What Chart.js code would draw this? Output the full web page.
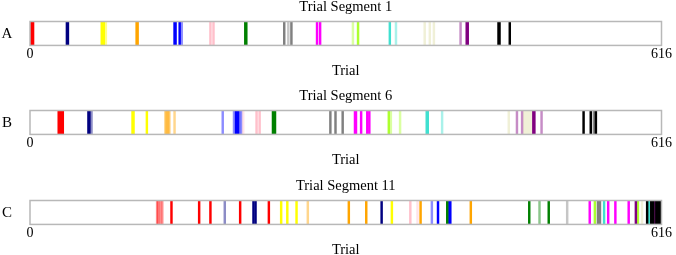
<!DOCTYPE html>
<html>
<head>
<meta charset="utf-8">
<script src="https://cdn.jsdelivr.net/npm/chart.js@4.4.1/dist/chart.umd.min.js"></script>
<style>
  body { margin: 0; background: #fff; width: 676px; height: 255px; overflow: hidden; position: relative; }
  .panel { position: absolute; left: 0; width: 676px; height: 78px; }
</style>
</head>
<body>
<div class="panel" style="top:0px"><canvas id="segA"></canvas></div>
<div class="panel" style="top:89px"><canvas id="segB"></canvas></div>
<div class="panel" style="top:179px"><canvas id="segC"></canvas></div>
<script>
// trial axis
const trialMin = 0;
const trialMax = 616;
const axisTicks = [0, 616];

// stimulus categories (index used below)
const stimNames = ["red", "navy", "yellow", "orange", "blue", "pink", "green",
  "gray", "magenta", "lime", "turquoise", "beige", "purple", "black"];

// Trial Segment 1
const seg1Trials = [0, 1, 2, 3, 36, 37, 70, 72, 74, 104, 105, 141, 142, 146, 148,
  176, 179, 210, 211, 248, 252, 255, 280, 283, 315, 320, 351, 357, 385, 390, 394,
  420, 426, 427, 457, 458, 468];
const seg1Stim = [0, 0, 0, 0, 1, 1, 2, 2, 2, 3, 3, 4, 4, 4, 4,
  5, 5, 6, 6, 7, 7, 7, 8, 8, 9, 9, 10, 10, 11, 11, 11,
  12, 12, 12, 13, 13, 13];
const seg1Faded = [0, 0, 0, 0, 0, 0, 0, 0, 1, 0, 0, 0, 0, 0, 1,
  0, 0, 0, 0, 0, 1, 0, 0, 0, 1, 0, 0, 1, 0, 0, 0,
  1, 0, 0, 0, 0, 0];

// Trial Segment 6
const seg6Trials = [28, 29, 30, 31, 32, 57, 58, 60, 100, 101, 114,
  132, 133, 134, 135, 136, 141, 188, 199, 201, 203, 204, 206,
  208, 221, 224, 237, 238, 239, 293, 298, 305, 317, 318, 323, 329, 331,
  350, 352, 361, 387, 388, 402, 467, 482, 484, 486, 488, 490,
  475, 480, 491, 492, 499, 540, 547, 550, 552];
const seg6Stim = [0, 0, 0, 0, 0, 1, 1, 1, 2, 2, 2,
  3, 3, 3, 3, 3, 3, 4, 4, 4, 4, 4, 4,
  5, 5, 5, 6, 6, 6, 7, 7, 7, 8, 8, 8, 8, 8,
  9, 9, 9, 10, 10, 10, 11, 11, 11, 11, 11, 11,
  12, 12, 12, 12, 12, 13, 13, 13, 13];
const seg6Faded = [0, 0, 0, 0, 0, 0, 0, 1, 0, 0, 0,
  1, 1, 1, 1, 1, 1, 1, 1, 0, 0, 1, 1,
  1, 0, 0, 0, 0, 0, 0, 0, 0, 0, 0, 0, 0, 0,
  0, 1, 1, 0, 0, 1, 0, 0, 0, 0, 0, 0,
  1, 1, 0, 0, 1, 0, 0, 1, 0];

// Trial Segment 11
const seg11Trials = [124, 125, 127, 129, 138, 165, 176, 205, 233,
  190, 218, 220, 343, 245, 251, 260, 353, 271, 311, 328, 381, 430,
  392, 398, 409, 410, 371, 378, 407, 487, 497, 506, 524, 554, 556,
  546, 564, 571, 584, 551, 593, 560, 604, 597, 591, 610,
  602, 606, 607, 608, 611, 612, 613, 614, 615];
const seg11Stim = [0, 0, 0, 0, 0, 0, 0, 0, 0,
  1, 1, 1, 1, 2, 2, 2, 2, 3, 3, 3, 3, 3,
  4, 4, 4, 4, 5, 5, 6, 6, 6, 6, 7, 7, 7,
  8, 8, 8, 8, 9, 9, 10, 10, 11, 12, 12,
  13, 13, 13, 13, 13, 13, 13, 13, 13];
const seg11Faded = [1, 1, 1, 1, 0, 0, 0, 0, 0,
  1, 0, 0, 0, 0, 0, 0, 0, 1, 0, 0, 0, 0,
  1, 0, 0, 0, 0, 1, 0, 0, 1, 0, 1, 0, 0,
  0, 0, 0, 0, 0, 0, 0, 0, 0, 0, 0,
  0, 0, 0, 0, 0, 0, 0, 0, 0];

// colours for each stimulus (r, g, b)
const stimColors = [
  [255, 0, 0], [0, 0, 128], [255, 255, 0], [255, 165, 0], [0, 0, 255],
  [255, 192, 203], [0, 128, 0], [128, 128, 128], [255, 0, 255], [173, 255, 47],
  [64, 224, 208], [240, 240, 215], [128, 0, 128], [0, 0, 0]
];

Chart.defaults.font.family = "'Liberation Serif', 'Times New Roman', serif";
Chart.defaults.font.size = 14;
Chart.defaults.color = "#000";

// grey frame round the plot area + panel letter on the left
const boxPlugin = {
  id: "box",
  afterDatasetsDraw(chart) {
    const a = chart.chartArea;
    const ctx = chart.ctx;
    ctx.save();
    ctx.strokeStyle = "#b8b8b8";
    ctx.lineWidth = 1.5;
    ctx.strokeRect(a.left, a.top, a.right - a.left, a.bottom - a.top);
    ctx.restore();
  },
  afterDraw(chart, args, opts) {
    const a = chart.chartArea;
    const ctx = chart.ctx;
    ctx.save();
    ctx.font = "15px 'Liberation Serif', serif";
    ctx.fillStyle = "#000";
    ctx.textAlign = "center";
    ctx.textBaseline = "middle";
    ctx.fillText(opts.letter, 7, (a.top + a.bottom) / 2 + 1);
    ctx.restore();
  }
};

function makePanel(id, title, letter, trials, stim, faded) {
  const points = trials.map(t => ({ x: t, y: 1 }));
  const colors = stim.map((s, i) => {
    const c = stimColors[s];
    const alpha = faded[i] ? 0.45 : 1;
    return `rgba(${c[0]},${c[1]},${c[2]},${alpha})`;
  });

  new Chart(id, {
    type: "bar",
    data: {
      datasets: [{
        data: points,
        backgroundColor: colors,
        borderWidth: 0,
        barThickness: 1.8,
        grouped: false
      }]
    },
    options: {
      responsive: true,
      maintainAspectRatio: false,
      animation: false,
      layout: { padding: { left: 30, right: 11, top: 0, bottom: 0 } },
      plugins: {
        legend: { display: false },
        tooltip: { enabled: false },
        title: {
          display: true,
          text: title,
          fullSize: false,
          font: { size: 14.5, weight: "normal", lineHeight: 1 },
          padding: { top: 0, bottom: 7 }
        },
        box: { letter: letter }
      },
      scales: {
        x: {
          type: "linear",
          min: trialMin,
          max: trialMax,
          offset: false,
          grid: { display: false, drawTicks: false },
          border: { display: false },
          afterBuildTicks: scale => { scale.ticks = axisTicks.map(v => ({ value: v })); },
          ticks: {
            padding: 4,
            maxRotation: 0,
            font: { size: 14, lineHeight: 0.72 },
            callback: v => v
          },
          title: {
            display: true,
            text: "Trial",
            font: { size: 14.5, lineHeight: 1 },
            padding: { top: 0, bottom: 0 }
          }
        },
        y: { display: false, min: 0, max: 1 }
      }
    },
    plugins: [boxPlugin]
  });
}

makePanel("segA", "Trial Segment 1", "A", seg1Trials, seg1Stim, seg1Faded);
makePanel("segB", "Trial Segment 6", "B", seg6Trials, seg6Stim, seg6Faded);
makePanel("segC", "Trial Segment 11", "C", seg11Trials, seg11Stim, seg11Faded);
</script>
</body>
</html>
